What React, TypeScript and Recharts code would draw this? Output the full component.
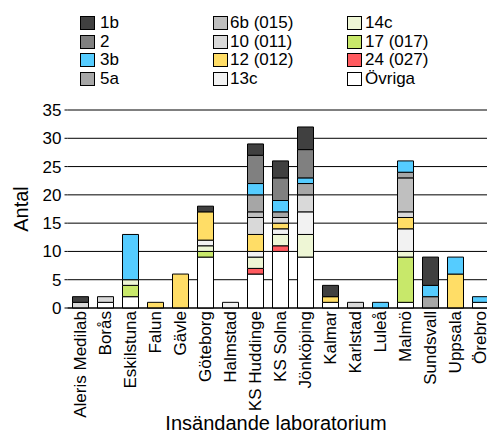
import React from "react";
import { BarChart, Bar, XAxis, YAxis, CartesianGrid } from "recharts";

const labs = [
  "Aleris Medilab", "Borås", "Eskilstuna", "Falun", "Gävle", "Göteborg", "Halmstad",
  "KS Huddinge", "KS Solna", "Jönköping", "Kalmar", "Karlstad", "Luleå", "Malmö",
  "Sundsvall", "Uppsala", "Örebro",
];

// stacked bottom -> top
const ovriga = [0, 1, 2, 0, 0, 9, 0, 6, 10, 9, 1, 0, 0, 1, 0, 0, 1];
const t24 = [0, 0, 0, 0, 0, 0, 0, 1, 1, 0, 0, 0, 0, 0, 0, 0, 0];
const t17 = [0, 0, 2, 0, 0, 1, 0, 0, 0, 0, 0, 0, 0, 8, 0, 0, 0];
const t14c = [0, 0, 1, 0, 0, 1, 0, 2, 2, 4, 0, 0, 0, 1, 0, 0, 0];
const t13c = [0, 0, 0, 0, 0, 1, 1, 1, 1, 4, 0, 0, 0, 4, 0, 0, 0];
const t12 = [0, 0, 0, 1, 6, 5, 0, 3, 1, 0, 1, 0, 0, 2, 0, 6, 0];
const t10 = [1, 1, 0, 0, 0, 0, 0, 3, 1, 3, 0, 1, 0, 1, 0, 0, 0];
const t6b = [0, 0, 0, 0, 0, 0, 0, 1, 0, 0, 0, 0, 0, 6, 0, 0, 0];
const t5a = [0, 0, 0, 0, 0, 0, 0, 3, 1, 2, 0, 0, 0, 1, 2, 0, 0];
const t3b = [0, 0, 8, 0, 0, 0, 0, 2, 2, 1, 0, 0, 1, 2, 2, 3, 1];
const t2 = [0, 0, 0, 0, 0, 0, 0, 5, 4, 5, 0, 0, 0, 0, 0, 0, 0];
const t1b = [1, 0, 0, 0, 0, 1, 0, 2, 3, 4, 2, 0, 0, 0, 5, 0, 0];

const yTicks = [0, 5, 10, 15, 20, 25, 30, 35];

const series = [
  { key: "Övriga", values: ovriga, color: "#FFFFFF" },
  { key: "24 (027)", values: t24, color: "#FF5A5F" },
  { key: "17 (017)", values: t17, color: "#C8E86A" },
  { key: "14c", values: t14c, color: "#EEF6D5" },
  { key: "13c", values: t13c, color: "#F2F2F2" },
  { key: "12 (012)", values: t12, color: "#FFDD66" },
  { key: "10 (011)", values: t10, color: "#D9D9D9" },
  { key: "6b (015)", values: t6b, color: "#BFBFBF" },
  { key: "5a", values: t5a, color: "#A6A6A6" },
  { key: "3b", values: t3b, color: "#55CCFF" },
  { key: "2", values: t2, color: "#808080" },
  { key: "1b", values: t1b, color: "#404040" },
];

const legendCols = [
  { left: 80, text: 100, keys: ["1b", "2", "3b", "5a"] },
  { left: 213, text: 230, keys: ["6b (015)", "10 (011)", "12 (012)", "13c"] },
  { left: 347, text: 365, keys: ["14c", "17 (017)", "24 (027)", "Övriga"] },
];
const legendTops = [16, 34.5, 53, 71.5];

const data = labs.map((lab, i) => {
  const row: Record<string, string | number> = { lab };
  series.forEach((s) => (row[s.key] = s.values[i]));
  return row;
});

const font = "'Liberation Sans', Arial, sans-serif";

function LabTick({ x, y, payload }: any) {
  return (
    <text
      x={x}
      y={y}
      dy="0.35em"
      transform={`rotate(-90, ${x}, ${y})`}
      textAnchor="end"
      fontSize={17}
      fill="#000"
      fontFamily={font}
    >
      {payload.value}
    </text>
  );
}

export default function App() {
  const colorOf = (k: string) => series.find((s) => s.key === k)!.color;
  return (
    <div
      style={{
        position: "fixed",
        left: 0,
        top: 0,
        width: 487,
        height: 434,
        overflow: "hidden",
        background: "#fff",
        fontFamily: font,
      }}
    >
      {legendCols.map((col) =>
        col.keys.map((k, r) => (
          <React.Fragment key={k}>
            <div
              style={{
                position: "absolute",
                left: col.left,
                top: legendTops[r],
                width: 15,
                height: 14,
                boxSizing: "border-box",
                border: "1px solid #000",
                background: colorOf(k),
              }}
            />
            <div
              style={{
                position: "absolute",
                left: col.text,
                top: legendTops[r],
                height: 14,
                lineHeight: "14px",
                fontSize: 17,
                color: "#000",
                whiteSpace: "nowrap",
              }}
            >
              {k}
            </div>
          </React.Fragment>
        ))
      )}
      <div style={{ position: "absolute", left: 0, top: 0 }}>
        <BarChart
          width={500}
          height={434}
          data={data}
          margin={{ top: 110, right: 7.5, bottom: 0, left: 7.5 }}
          barSize={16}
        >
          <CartesianGrid vertical={false} stroke="#000" strokeWidth={1} />
          <YAxis
            width={60}
            domain={[0, 35]}
            ticks={yTicks}
            axisLine={false}
            tickLine={{ stroke: "#000" }}
            tickSize={3}
            tickMargin={3}
            tick={{ fill: "#000", fontSize: 17, fontFamily: font }}
            label={{
              value: "Antal",
              angle: -90,
              position: "center",
              dx: -17,
              fill: "#000",
              fontSize: 20,
              fontFamily: font,
            }}
          />
          <XAxis
            dataKey="lab"
            height={126}
            interval={0}
            axisLine={{ stroke: "#000" }}
            tickLine={false}
            tickSize={0}
            tickMargin={3}
            tick={<LabTick />}
            label={{
              value: "Insändande laboratorium",
              position: "center",
              dx: -4,
              dy: 52,
              fill: "#000",
              fontSize: 20,
              fontFamily: font,
            }}
          />
          {series.map((s) => (
            <Bar
              key={s.key}
              dataKey={s.key}
              stackId="a"
              fill={s.color}
              stroke="#000"
              strokeWidth={1}
              isAnimationActive={false}
            />
          ))}
        </BarChart>
      </div>
    </div>
  );
}
